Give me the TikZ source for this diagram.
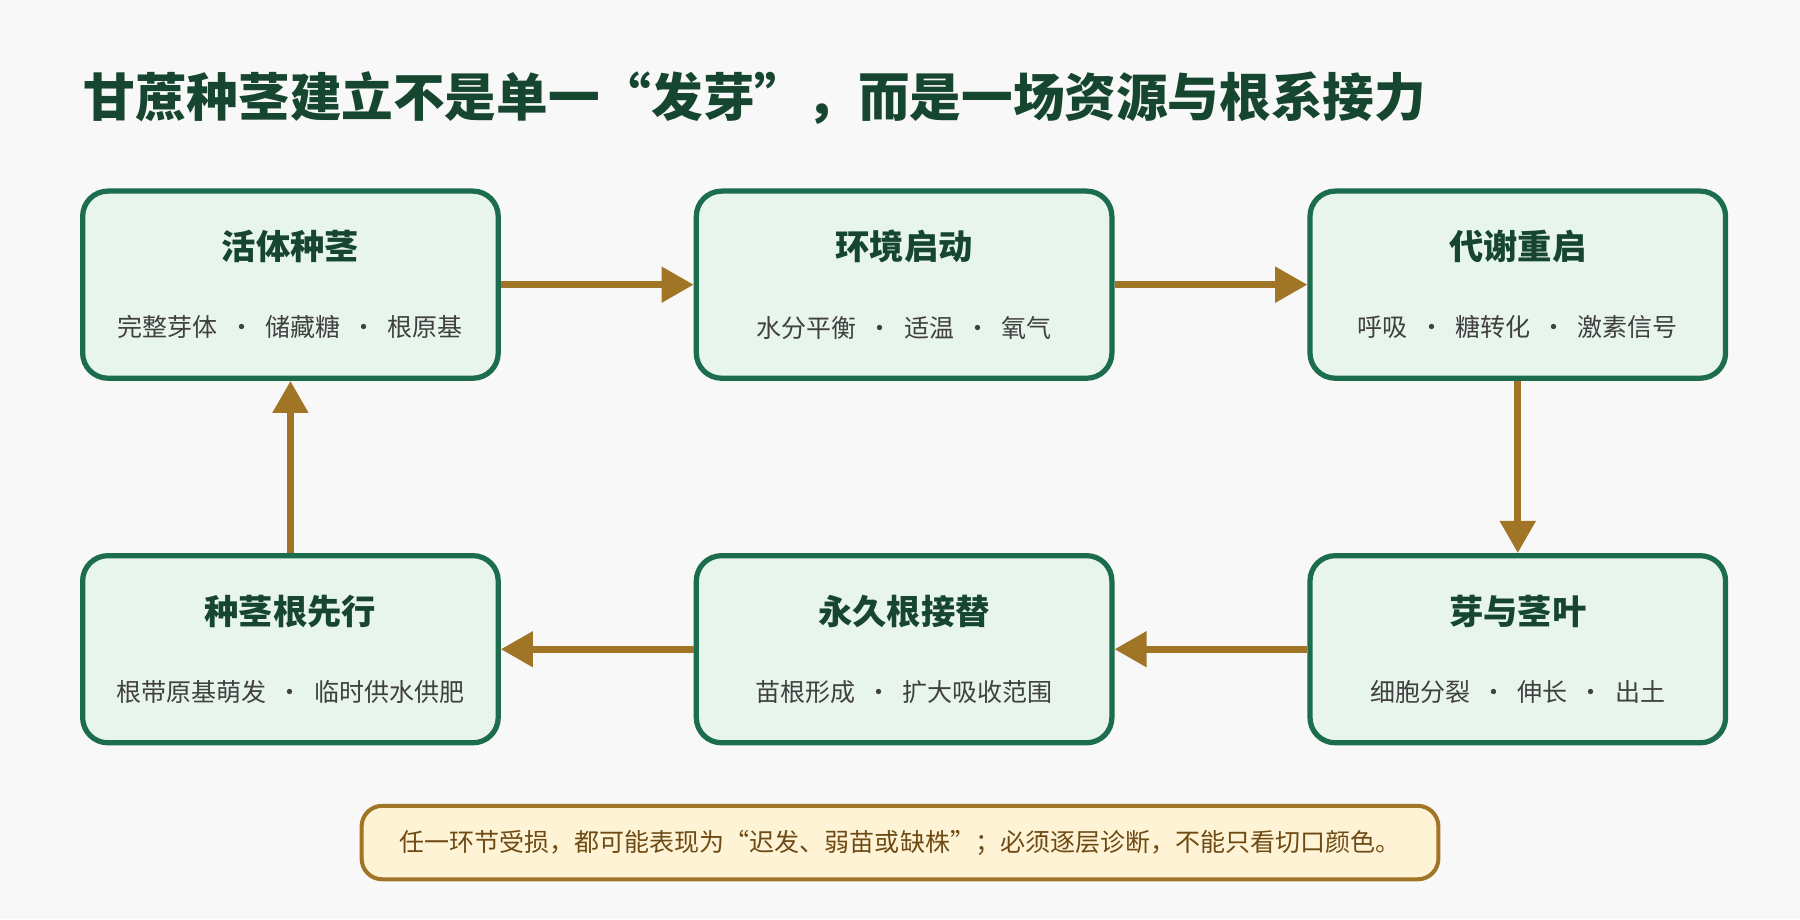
\documentclass[tikz,border=0pt]{standalone}
\usepackage{fontspec}
\setmainfont{Noto Sans CJK SC}
\usetikzlibrary{arrows.meta,positioning}
\definecolor{bgcolor}{RGB}{247,248,247}
\definecolor{boxfill}{RGB}{232,245,237}
\definecolor{boxline}{RGB}{28,108,78}
\definecolor{titlecolor}{RGB}{22,70,48}
\definecolor{arrowcolor}{RGB}{160,118,38}
\definecolor{notefill}{RGB}{255,243,214}
\definecolor{notetext}{RGB}{110,75,20}
\begin{document}
\begin{tikzpicture}[
    node distance=1.5cm and 1.68cm,
    stage/.style={
        rectangle, rounded corners=0.22cm, fill=boxfill, draw=boxline,
        line width=1.3pt, minimum width=3.62cm, minimum height=1.63cm,
        align=center, text=titlecolor
    },
    note/.style={
        rectangle, rounded corners=0.18cm, fill=notefill, draw=arrowcolor,
        line width=1pt, minimum width=9.38cm, minimum height=0.64cm,
        text=notetext, font=\fontsize{6.2pt}{8pt}\selectfont
    },
    arrow/.style={-{Triangle[length=0.28cm,width=0.3cm]}, line width=1.7pt, arrowcolor}
]
\newcommand{\stagetext}[2]{{\fontsize{8.5pt}{10pt}\selectfont\bfseries #1}\\[0.25cm]{\fontsize{6.2pt}{8pt}\selectfont\color{black!75}#2}}

\fill[bgcolor] (0,0) rectangle (15.68,8.01);

% Title
\node[anchor=west, text=titlecolor, font=\fontsize{12.8pt}{15pt}\selectfont\bfseries, inner sep=0pt]
    (title) at (0.72,7.16) {甘蔗种茎建立不是单一“发芽”，而是一场资源与根系接力};

% Stages
\node[stage] (seed) at (2.53,5.53) {\stagetext{活体种茎}{完整芽体 \ · \ 储藏糖 \ · \ 根原基}};
\node[stage, right=of seed] (env) {\stagetext{环境启动}{水分平衡 \ · \ 适温 \ · \ 氧气}};
\node[stage, right=of env] (meta) {\stagetext{代谢重启}{呼吸 \ · \ 糖转化 \ · \ 激素信号}};
\node[stage, below=of meta] (shoot) {\stagetext{芽与茎叶}{细胞分裂 \ · \ 伸长 \ · \ 出土}};
\node[stage, left=of shoot] (perm) {\stagetext{永久根接替}{苗根形成 \ · \ 扩大吸收范围}};
\node[stage, left=of perm] (sett) {\stagetext{种茎根先行}{根带原基萌发 \ · \ 临时供水供肥}};

% Note
\node[note] (warn) at (7.84,0.67) {任一环节受损，都可能表现为“迟发、弱苗或缺株”；必须逐层诊断，不能只看切口颜色。};

% Arrows
\draw[arrow] (seed) -- (env);
\draw[arrow] (env) -- (meta);
\draw[arrow] (meta) -- (shoot);
\draw[arrow] (shoot) -- (perm);
\draw[arrow] (perm) -- (sett);
\draw[arrow] (sett) -- (seed);

\end{tikzpicture}
\end{document}
